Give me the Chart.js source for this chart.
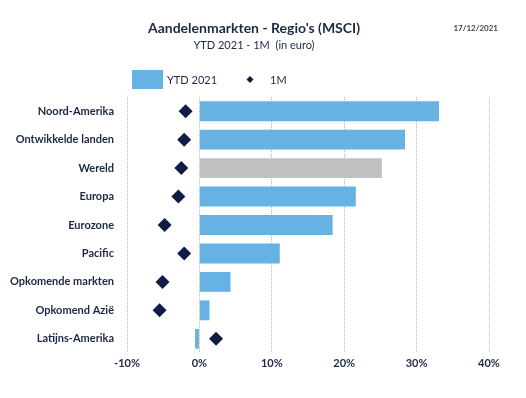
<!DOCTYPE html>
<html>
<head>
<meta charset="utf-8">
<script src="https://cdn.jsdelivr.net/npm/chart.js@4"></script>
<style>
    html, body { margin: 0; padding: 0; background: #fff; }
    #wrap { width: 526px; height: 398px; }
</style>
</head>
<body>
<div id="wrap"><canvas id="regios" width="526" height="398"></canvas></div>
<script>
// Data uit de grafiek (in %)
const categories = ['Noord-Amerika', 'Ontwikkelde landen', 'Wereld', 'Europa', 'Eurozone', 'Pacific', 'Opkomende markten', 'Opkomend Azië', 'Latijns-Amerika'];
const ytd2021 = [33.1, 28.4, 25.2, 21.6, 18.4, 11.1, 4.3, 1.4, -0.6];
const oneMonth = [-1.9, -2.1, -2.5, -2.9, -4.8, -2.1, -5.1, -5.5, 2.3];
const xTicks = [-10, 0, 10, 20, 30, 40];

const navy = '#1c2845';
const blue = '#66b3e3';
const grey = '#c0c0c0';
const fontFam = 'Lato, "Open Sans", sans-serif';

// Legende en datum zelf tekenen
const headerPlugin = {
    id: 'header',
    afterDraw(chart) {
        const ctx = chart.ctx;
        ctx.save();
        ctx.fillStyle = blue;
        ctx.fillRect(132, 70, 31, 19);
        ctx.fillStyle = navy;
        ctx.font = '11px ' + fontFam;
        ctx.textBaseline = 'middle';
        ctx.textAlign = 'left';
        ctx.fillText('YTD 2021', 167, 80);
        ctx.fillText('1M', 270, 80);
        ctx.beginPath();
        ctx.moveTo(250, 76);
        ctx.lineTo(253.5, 79.5);
        ctx.lineTo(250, 83);
        ctx.lineTo(246.5, 79.5);
        ctx.closePath();
        ctx.fillStyle = '#0f1d45';
        ctx.fill();
        ctx.font = 'bold 8px ' + fontFam;
        ctx.fillStyle = '#444';
        ctx.textAlign = 'right';
        ctx.fillText('17/12/2021', 498, 28);
        ctx.restore();
    }
};

const ctxRegios = document.getElementById('regios').getContext('2d');
const regiosChart = new Chart(ctxRegios, {
    data: {
        labels: categories,
        datasets: [{
            type: 'line',
            label: '1M',
            data: oneMonth,
            showLine: false,
            pointStyle: 'rectRot',
            pointRadius: 7,
            pointHoverRadius: 7,
            backgroundColor: '#0f1d45',
            borderColor: '#0f1d45',
            borderWidth: 0,
            order: 0
        }, {
            type: 'bar',
            label: 'YTD 2021',
            data: ytd2021,
            backgroundColor: (c) => categories[c.dataIndex] === 'Wereld' ? grey : blue,
            categoryPercentage: 1,
            barPercentage: 0.7,
            order: 1
        }]
    },
    options: {
        indexAxis: 'y',
        responsive: false,
        animation: false,
        layout: {
            padding: { left: 0, right: 18, top: 8, bottom: 10 }
        },
        plugins: {
            legend: { display: false },
            tooltip: { enabled: false },
            title: {
                display: true,
                text: "Aandelenmarkten - Regio's (MSCI)",
                color: navy,
                font: { family: fontFam, size: 14, weight: 'bold' },
                padding: { top: 12, bottom: 2 }
            },
            subtitle: {
                display: true,
                text: 'YTD 2021 - 1M  (in euro)',
                color: navy,
                font: { family: fontFam, size: 11 },
                padding: { top: 0, bottom: 45 }
            }
        },
        scales: {
            x: {
                min: xTicks[0],
                max: xTicks[xTicks.length - 1],
                afterBuildTicks: (scale) => { scale.ticks = xTicks.map(v => ({ value: v })); },
                afterFit: (scale) => { scale.height = 35; },
                ticks: {
                    color: navy,
                    padding: 4,
                    font: { family: fontFam, size: 11, weight: 'bold' },
                    callback: (v) => v + '%'
                },
                grid: {
                    color: '#b8b8b8',
                    drawTicks: false,
                    lineWidth: 1
                },
                border: { display: false, dash: [1, 1] }
            },
            y: {
                afterFit: (scale) => { scale.width = 127; },
                ticks: {
                    color: navy,
                    padding: 5,
                    font: { family: fontFam, size: 11, weight: 'bold' }
                },
                grid: { display: false },
                border: { display: false }
            },
            // lege as rechts, houdt de titel gecentreerd zoals in het origineel
            rechts: {
                axis: 'y',
                type: 'category',
                position: 'right',
                afterFit: (scale) => { scale.width = 19; },
                ticks: { display: false },
                grid: { display: false },
                border: { display: false }
            }
        }
    },
    plugins: [headerPlugin]
});
</script>
</body>
</html>
